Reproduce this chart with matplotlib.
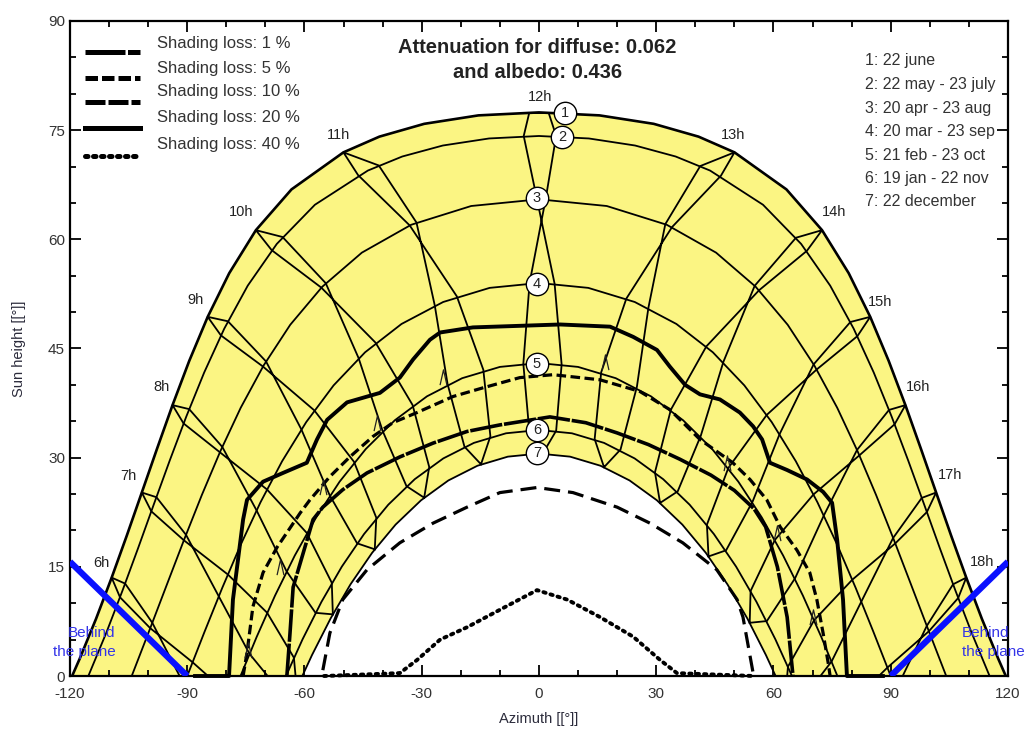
import matplotlib.pyplot as plt
from matplotlib.path import Path

plt.rcParams['font.family'] = ['Liberation Sans', 'DejaVu Sans']
plt.rcParams['axes.unicode_minus'] = False

# ---- sun paths of the 7 dates, (azimuth, sun height)
jun_az = [-119.45, -117.5, -113.32, -109.33, -105.45, -101.62, -97.75, -93.76, -89.49, -84.76, -79.25, -72.43,
          -63.32, -50.03, -40.83, -29.36, -15.5, 0, 15.5, 29.36, 40.83, 50.03, 63.32, 72.43, 79.25, 84.76,
          89.49, 93.76, 97.75, 101.62, 105.45, 109.33, 113.32, 117.5, 119.45]
jun_el = [0, 2.39, 7.87, 13.52, 19.31, 25.21, 31.19, 37.22, 43.29, 49.35, 55.35, 61.26,
          66.86, 71.95, 74.11, 75.87, 77.03, 77.44, 77.03, 75.87, 74.11, 71.95, 66.86, 61.26, 55.35, 49.35,
          43.29, 37.22, 31.19, 25.21, 19.31, 13.52, 7.87, 2.39, 0]
may_az = [-115.3, -110.69, -106.58, -102.56, -98.57, -94.5, -90.25, -85.66, -80.53, -74.51, -67.08, -57.33,
          -43.78, -34.98, -24.6, -12.76, 0, 12.76, 24.6, 34.98, 43.78, 57.33, 67.08, 74.51, 80.53, 85.66,
          90.25, 94.5, 98.57, 102.56, 106.58, 110.69, 115.3]
may_el = [0, 5.96, 11.71, 17.58, 23.55, 29.57, 35.63, 41.7, 47.72, 53.64, 59.37, 64.75,
          69.45, 71.38, 72.89, 73.86, 74.2, 73.86, 72.89, 71.38, 69.45, 64.75, 59.37, 53.64, 47.72, 41.7,
          35.63, 29.57, 23.55, 17.58, 11.71, 5.96, 0]
apr_az = [-104.2, -99.35, -95.07, -90.74, -86.26, -81.51, -76.31, -70.45, -63.64, -55.44, -45.32, -32.7, -17.34,
          0, 17.34, 32.7, 45.32, 55.44, 63.64, 70.45, 76.31, 81.51, 86.26, 90.74, 95.07, 99.35, 104.2]
apr_el = [0, 6.73, 12.75, 18.81, 24.87, 30.9, 36.86, 42.67, 48.26, 53.49, 58.17, 62.0, 64.58,
          65.5, 64.58, 62.0, 58.17, 53.49, 48.26, 42.67, 36.86, 30.9, 24.87, 18.81, 12.75, 6.73, 0]
mar_az = [-90, -85.58, -81.05, -76.32, -71.26, -65.72, -59.55, -52.55, -44.49, -35.17, -24.51, -12.62,
          0, 12.62, 24.51, 35.17, 44.49, 52.55, 59.55, 65.72, 71.26, 76.32, 81.05, 85.58, 90]
mar_el = [0, 6.06, 12.09, 18.03, 23.86, 29.51, 34.89, 39.93, 44.48, 48.37, 51.39, 53.33,
          54.0, 53.33, 51.39, 48.37, 44.48, 39.93, 34.89, 29.51, 23.86, 18.03, 12.09, 6.06, 0]
feb_az = [-76.36, -72.24, -67.53, -62.48, -57.0, -51.0, -44.31, -36.88, -28.65, -19.65, -10.0,
          0, 10.0, 19.65, 28.65, 36.88, 44.31, 51.0, 57.0, 62.48, 67.53, 72.24, 76.36]
feb_el = [0, 5.36, 11.05, 16.55, 21.8, 26.71, 31.19, 35.14, 38.43, 40.92, 42.47,
          43.0, 42.47, 40.92, 38.43, 35.14, 31.19, 26.71, 21.8, 16.55, 11.05, 5.36, 0]
jan_az = [-64.73, -60.5, -55.66, -50.44, -44.75, -38.55, -31.79, -24.47, -16.65, -8.43,
          0, 8.43, 16.65, 24.47, 31.79, 38.55, 44.75, 50.44, 55.66, 60.5, 64.73]
jan_el = [0, 5.03, 10.18, 15.03, 19.51, 23.54, 27.04, 29.9, 32.03, 33.35,
          33.8, 33.35, 32.03, 29.9, 27.04, 23.54, 19.51, 15.03, 10.18, 5.03, 0]
dec_az = [-60.55, -58.07, -53.33, -48.23, -42.7, -36.69, -30.18, -23.18, -15.74, -7.96,
          0, 7.96, 15.74, 23.18, 30.18, 36.69, 42.7, 48.23, 53.33, 58.07, 60.55]
dec_el = [0, 2.88, 7.89, 12.59, 16.92, 20.8, 24.14, 26.87, 28.89, 30.14,
          30.56, 30.14, 28.89, 26.87, 24.14, 20.8, 16.92, 12.59, 7.89, 2.88, 0]

# ---- hour lines (two branches: dec->jun then jun->dec)
h06_az = [-82.9, -90.84, -98.93, -105.89, -109.33, -107.2, -99.46, -88.63, -78.4]
h06_el = [-8.8, -1.16, 7.31, 12.7, 13.52, 10.82, 6.57, 1.89, -3.0]
h07_az = [-61.98, -66.35, -74.07, -81.93, -90.31, -97.88, -101.62, -99.19, -90.86, -79.61, -69.58, -62.71, -61.98]
h07_el = [-1.74, -2.02, 3.05, 10.95, 19.4, 24.57, 25.21, 22.63, 18.65, 13.95, 8.71, 2.53, -1.74]
h08_az = [-52.74, -57.17, -64.59, -72.27, -81.03, -89.5, -93.76, -90.93, -81.64, -69.61, -59.43, -53.01, -52.74]
h08_el = [8.47, 8.68, 14.4, 22.77, 31.48, 36.67, 37.22, 34.7, 30.74, 25.64, 19.67, 12.81, 8.47]
h09_az = [-42.01, -46.53, -53.54, -60.81, -69.83, -79.58, -84.76, -81.38, -70.62, -57.5, -47.32, -41.62, -42.01]
h09_el = [17.41, 18.23, 24.83, 33.9, 43.22, 48.74, 49.35, 46.8, 42.52, 36.51, 29.43, 21.75, 17.41]
h10_az = [-29.37, -33.9, -40.01, -46.15, -54.55, -65.61, -72.43, -68.4, -55.68, -41.79, -32.34, -28.08, -29.37]
h10_el = [24.5, 26.09, 33.69, 43.68, 53.97, 60.32, 61.26, 58.52, 53.36, 45.79, 37.24, 28.72, 24.5]
h11_az = [-14.83, -19.06, -23.38, -26.66, -31.34, -40.99, -50.03, -46.29, -33.07, -21.01, -14.24, -12.43, -14.83]
h11_el = [29.09, 31.51, 40.11, 50.92, 62.31, 70.15, 71.95, 68.83, 61.91, 52.16, 42.09, 32.94, 29.09]
h12_az = [0.95, -2.5, -4.0, -2.4, 1.7, 4.4, 2.5, -2.5, -3.9, -0.5, 4.0, 5.8, 4.4, 0.95]
h12_el = [30.55, 33.8, 42.9, 54.0, 65.5, 74.2, 77.35, 77.35, 74.2, 65.5, 53.9, 42.8, 33.7, 30.55]
h13_az = [16.65, 14.25, 15.92, 22.36, 34.06, 46.57, 50.03, 41.27, 32.33, 28.01, 25.06, 20.87, 16.65]
h13_el = [28.69, 32.55, 41.73, 51.86, 61.69, 68.75, 71.95, 70.07, 62.09, 50.62, 39.75, 31.12, 28.69]
h14_az = [30.99, 29.68, 33.75, 42.83, 56.33, 68.55, 72.43, 65.76, 55.2, 47.19, 41.42, 35.5, 30.99]
h14_el = [23.78, 27.99, 36.59, 45.29, 53.01, 58.42, 61.26, 60.22, 53.62, 43.17, 33.04, 25.37, 23.78]
h15_az = [43.39, 42.97, 48.46, 58.29, 71.07, 81.48, 84.76, 79.68, 70.28, 61.6, 54.68, 47.88, 43.39]
h15_el = [16.43, 20.79, 28.59, 35.88, 42.12, 46.7, 49.35, 48.64, 42.82, 33.27, 23.99, 17.27, 16.43]
h16_az = [53.92, 54.15, 60.37, 70.25, 81.99, 91.0, 93.76, 89.57, 81.38, 72.91, 65.53, 58.31, 53.92]
h16_el = [7.31, 11.68, 18.7, 24.95, 30.32, 34.59, 37.22, 36.56, 31.06, 22.08, 13.43, 7.55, 7.31]
h17_az = [63.02, 63.71, 70.41, 80.17, 91.17, 99.26, 101.62, 97.95, 90.62, 82.49, 74.9, 67.35, 63.02]
h17_el = [-3.04, 1.28, 7.67, 13.23, 18.22, 22.53, 25.21, 24.47, 18.97, 10.23, 2.02, -3.27, -3.04]
h18_az = [79.26, 89.16, 99.77, 107.27, 109.33, 105.96, 99.24, 91.37, 83.7]
h18_el = [-4.07, 1.16, 6.15, 10.72, 13.52, 12.6, 6.89, -1.89, -9.9]

# ---- iso-shading curves
loss_labels = ['Shading loss: 1 %', 'Shading loss: 5 %', 'Shading loss: 10 %',
               'Shading loss: 20 %', 'Shading loss: 40 %']
s01_az = [-88, -79.3, -78.3, -75.7, -74.7, -70.6, -65.5, -59.4, -56.8, -54.2, -49.1, -40.7, -35.6, -32.2,
          -27.9, -25.3, -16.9, 5.4, 18.2, 24.1, 30.2, 33.5, 37.4, 41.2, 46.3, 51.4, 54.8, 57.1, 59.1,
          63.5, 68.6, 72.7, 75.0, 76.3, 77.8, 78.8, 88]
s01_el = [0, 0, 10.5, 21.5, 24.2, 26.7, 27.9, 29.3, 32.5, 35.2, 37.6, 38.9, 41.0, 43.5,
          46.2, 47.2, 47.9, 48.3, 48.0, 46.6, 44.8, 42.5, 40.0, 38.7, 38.0, 36.2, 34.3, 32.5, 29.3,
          28.3, 27.0, 25.3, 23.8, 18.7, 10.5, 0, 0]
s05_az = [-75.7, -74.7, -73.2, -70.6, -67.0, -61.1, -58.6, -53.5, -48.4, -42.5, -37.4, -31.2, -22.0, -14.3,
          -4.9, 3.6, 15.6, 25.8, 33.5, 41.2, 49.6, 54.0, 58.3, 61.7, 66.0, 69.3, 71.1, 72.7, 74.0, 74.5]
s05_el = [0, 3.2, 9.5, 14.2, 17.7, 22.4, 24.2, 27.4, 30.1, 32.9, 34.8, 36.2, 38.4, 39.6,
          41.0, 41.4, 40.7, 39.1, 36.6, 32.5, 29.3, 27.0, 24.2, 20.5, 17.3, 14.2, 10.5, 5.9, 1.8, 0]
s10_az = [-64.5, -63.7, -62.9, -57.8, -55.3, -50.2, -44.0, -35.6, -27.1, -18.4, -10.0, 2.8, 12.0, 20.0,
          28.0, 36.0, 44.0, 50.0, 55.0, 58.0, 61.0, 63.5, 65.0]
s10_el = [0, 5.9, 12.2, 21.5, 23.2, 25.6, 27.9, 30.1, 32.0, 33.6, 34.5, 35.6, 34.8, 33.4,
          31.8, 29.8, 27.6, 25.5, 23.0, 20.5, 15.0, 8.1, 0]
s20_az = [-55.3, -53.5, -50.2, -44.0, -35.6, -27.1, -18.4, -10.0, -0.5, 8.7, 20.0, 28.4, 36.8, 45.5,
          50.7, 52.2, 54.8]
s20_el = [0.8, 5.9, 10.5, 14.6, 18.3, 21.0, 23.2, 25.2, 25.9, 25.2, 23.2, 21.0, 18.3, 14.6,
          10.5, 8.1, 0.4]
s40_az = [-55, -35.6, -31.2, -25.3, -18.4, -10.0, -0.5, 7.2, 15.6, 24.1, 31.0, 35.3, 55]
s40_el = [0, 0.4, 2.2, 5.0, 6.7, 9.1, 11.8, 10.5, 8.1, 5.4, 2.2, 0.4, 0]

# small arrow marks along the shading lines
mark_az = [-24.6, -41.5, -55.3, -66.3, -74.5, 16.9, 48.1, 60.9, 70.1]
mark_el = [41.1, 34.8, 26.0, 15.0, 3.6, 43.1, 29.3, 19.7, 8.1]

date_labels = ['1: 22 june', '2: 22 may - 23 july', '3: 20 apr - 23 aug', '4: 20 mar - 23 sep',
               '5: 21 feb - 23 oct', '6: 19 jan - 22 nov', '7: 22 december']
marker_az = [6.6, 5.9, -0.5, -0.5, -0.5, -0.5, -0.5]
marker_el = [77.4, 74.1, 65.7, 53.9, 42.9, 33.8, 30.7]

hour_names = ['6h', '7h', '8h', '9h', '10h', '11h', '12h', '13h', '14h', '15h', '16h', '17h', '18h']
hour_lab_az = [-112, -105, -96.5, -87.8, -76.3, -51.4, 0.3, 49.6, 75.5, 87.3, 97, 105.2, 113.4]
hour_lab_el = [15.5, 27.5, 39.7, 51.7, 63.7, 74.4, 79.6, 74.4, 63.7, 51.4, 39.7, 27.6, 15.7]

diffuse_att = 0.062
albedo_att = 0.436

fig = plt.figure(figsize=(10.32, 7.29), dpi=100)
ax = fig.add_axes([0.0678, 0.0727, 0.9089, 0.8985])

# yellow band between 22 june and 22 december
ax.fill(jun_az + dec_az[::-1], jun_el + dec_el[::-1], color='#fbf583', lw=0, zorder=0)

paths = [(jun_az, jun_el), (may_az, may_el), (apr_az, apr_el), (mar_az, mar_el),
         (feb_az, feb_el), (jan_az, jan_el), (dec_az, dec_el)]
for i, (a, e) in enumerate(paths):
    ax.plot(a, e, color='black', lw=1.9 if i == 0 else 1.3, zorder=2)

hours = [(h06_az, h06_el), (h07_az, h07_el), (h08_az, h08_el), (h09_az, h09_el), (h10_az, h10_el),
         (h11_az, h11_el), (h12_az, h12_el), (h13_az, h13_el), (h14_az, h14_el), (h15_az, h15_el),
         (h16_az, h16_el), (h17_az, h17_el), (h18_az, h18_el)]
for a, e in hours:
    ax.plot(a, e, color='black', lw=1.3, zorder=2)

# iso-shading lines, style as drawn in the plot / in the legend
curve_styles = [dict(lw=2.8, ls='-'),
                dict(lw=2.3, ls=(0, (3, 1.4))),
                dict(lw=2.6, ls=(0, (9, 0.5))),
                dict(lw=2.3, ls=(0, (5, 2.5))),
                dict(lw=2.8, ls=(0, (0.6, 1.3)), dash_capstyle='round')]
legend_styles = [dict(lw=3.6, ls=(0, (8, 0.5))),
                 dict(lw=3.6, ls=(0, (2.5, 0.8))),
                 dict(lw=3.6, ls=(0, (4, 0.6))),
                 dict(lw=3.6, ls='-'),
                 dict(lw=3.6, ls=(0, (0.5, 1.1)), dash_capstyle='round')]
curves = [(s01_az, s01_el), (s05_az, s05_el), (s10_az, s10_el), (s20_az, s20_el), (s40_az, s40_el)]
for (a, e), st in zip(curves, curve_styles):
    ax.plot(a, e, color='black', zorder=3, clip_on=False, **st)

vee = Path([(-0.45, -1), (0, 1), (0.45, -1)], [Path.MOVETO, Path.LINETO, Path.LINETO])
ax.plot(mark_az, mark_el, ls='none', marker=vee, ms=11, mew=0.9, mec='#222222', mfc='none', zorder=3)

leg_y_line = [0.953, 0.913, 0.876, 0.837, 0.794]
leg_y_text = [0.966, 0.928, 0.892, 0.852, 0.811]
for lab, yl, yt, st in zip(loss_labels, leg_y_line, leg_y_text, legend_styles):
    ax.plot([0.016, 0.075], [yl, yl], transform=ax.transAxes, color='black', zorder=5, **st)
    ax.text(0.0928, yt, lab, transform=ax.transAxes, fontsize=12, color='#333333', va='center')

# "behind the plane" limits
ax.plot([-120, -90], [15.7, 0], color='#0a10ff', lw=4.5, zorder=4, solid_capstyle='butt')
ax.plot([90, 120], [0, 15.7], color='#0a10ff', lw=4.5, zorder=4, solid_capstyle='butt')
for x, ha in [(-108.3, 'right'), (108.2, 'left')]:
    ax.text(x, 5.9, 'Behind', color='#3434e8', fontsize=11, ha=ha, va='center', zorder=6)
    ax.text(x, 3.3, 'the plane', color='#3434e8', fontsize=11, ha=ha, va='center', zorder=6)

# date markers
ax.scatter(marker_az, marker_el, s=260, facecolor='white', edgecolor='black', lw=1.0, zorder=6)
for i, (a, e) in enumerate(zip(marker_az, marker_el)):
    ax.text(a, e, str(i + 1), fontsize=10.5, ha='center', va='center', color='#222222', zorder=7)

for name, a, e in zip(hour_names, hour_lab_az, hour_lab_el):
    ax.text(a, e, name, fontsize=10.5, ha='center', va='center', color='#222222', zorder=6)

leg_date_y = [0.939, 0.903, 0.867, 0.832, 0.795, 0.760, 0.724]
for lab, y in zip(date_labels, leg_date_y):
    ax.text(0.8475, y, lab, transform=ax.transAxes, fontsize=11.5, color='#333333', va='center')

ax.text(0.498, 0.959, 'Attenuation for diffuse: %.3f' % diffuse_att, transform=ax.transAxes,
        fontsize=14.5, fontweight='bold', ha='center', va='center', color='#222222')
ax.text(0.498, 0.922, 'and albedo: %.3f' % albedo_att, transform=ax.transAxes,
        fontsize=14.5, fontweight='bold', ha='center', va='center', color='#222222')

ax.set_xlim(-120, 120)
ax.set_ylim(0, 90)
ax.set_xticks(range(-120, 121, 30))
ax.set_xticks(range(-120, 121, 10), minor=True)
ax.set_yticks(range(0, 91, 15))
ax.set_yticks(range(0, 91, 5), minor=True)
ax.tick_params(which='both', direction='in', top=True, right=True, width=1.3, labelsize=11,
               labelcolor='#333333')
ax.tick_params(axis='x', which='major', pad=8)
ax.tick_params(which='major', length=8)
ax.tick_params(which='minor', length=4)
for sp in ax.spines.values():
    sp.set_linewidth(1.6)
ax.set_xlabel('Azimuth [[°]]', fontsize=10.5, color='#2b2b3b', labelpad=8)
ax.set_ylabel('Sun height [[°]]', fontsize=10.5, color='#2b2b3b', labelpad=16)

fig.savefig('out.png', dpi=100)
